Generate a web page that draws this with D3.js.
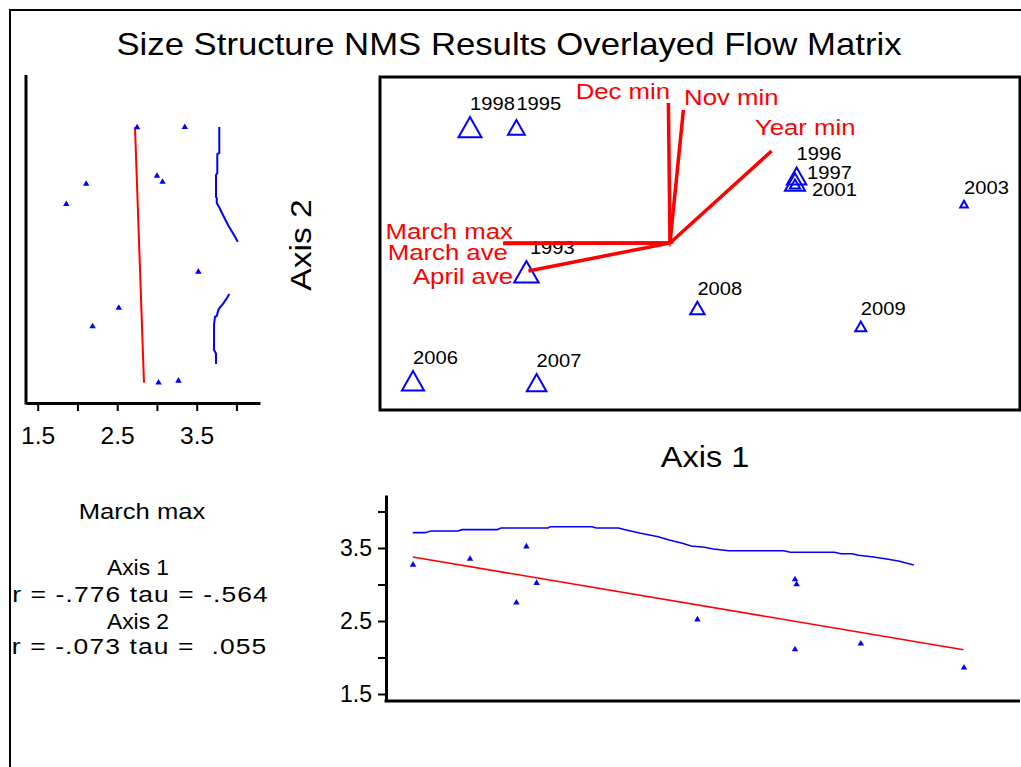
<!DOCTYPE html>
<html>
<head>
<meta charset="utf-8">
<script src="https://cdn.jsdelivr.net/npm/d3@7"></script>
<style>
  body { margin: 0; background: #fff; }
  text { font-family: "Liberation Sans", Arial, sans-serif; }
</style>
</head>
<body>
<svg id="chart" width="1021" height="767"></svg>
<script>
// ordination scores (sample units)
const years      = ["1993", "1995", "1996", "1997", "1998", "2001", "2003", "2006", "2007", "2008", "2009"];
const axis1Score = [-0.718, -0.768, 0.633, 0.625, -1.0, 0.625, 1.47, -1.285, -0.667, 0.137, 0.954];
const axis2Score = [-0.144, 0.578, 0.335, 0.305, 0.579, 0.295, 0.194, -0.689, -0.698, -0.325, -0.417];
const marchMax   = [3.52, 2.75, 3.0, 3.07, 3.35, 2.11, 1.86, 3.27, 3.02, 2.52, 2.19];

// joint plot vectors
const vectorNames = ["Dec min", "Nov min", "Year min", "March max", "March ave", "April ave"];
const vectorAxis1 = [-0.008, 0.067, 0.508, -0.834, -0.834, -0.708];
const vectorAxis2 = [0.70, 0.665, 0.46, 0.0, -0.002, -0.14];

// bottom panel: March max vs Axis 1
const bottomSmoothAxis1 = [-1.286, -1.226, -1.194, -1.061, -1.039, -0.863, -0.846, -0.61, -0.599, -0.39, -0.368, -0.258, -0.224, -0.147, -0.059, -0.004, 0.062, 0.106, 0.172, 0.217, 0.294, 0.569, 0.602, 0.822, 0.855, 0.91, 0.943, 1.009, 1.076, 1.142, 1.219];
const bottomSmoothMarch = [3.71, 3.71, 3.733, 3.733, 3.751, 3.751, 3.774, 3.774, 3.792, 3.792, 3.774, 3.774, 3.751, 3.701, 3.655, 3.61, 3.564, 3.527, 3.51, 3.486, 3.463, 3.463, 3.441, 3.441, 3.422, 3.422, 3.4, 3.381, 3.353, 3.322, 3.267];
const bottomFitAxis1 = [-1.286, 1.4675];
const bottomFitMarch = [3.377, 2.107];

// left panel: Axis 2 vs March max (smooth drawn in two pieces)
const leftSmoothTopMarch = [3.784, 3.784, 3.759, 3.759, 3.743, 3.743, 3.752, 3.752, 3.781, 3.818, 3.856, 3.894, 3.931, 3.969, 4.016];
const leftSmoothTopAxis2 = [0.58, 0.45, 0.445, 0.35, 0.34, 0.23, 0.225, 0.2, 0.18, 0.15, 0.12, 0.09, 0.065, 0.04, 0.0065];
const leftSmoothLowMarch = [3.91, 3.877, 3.835, 3.793, 3.772, 3.752, 3.73, 3.718, 3.718, 3.743, 3.743];
const leftSmoothLowAxis2 = [-0.255, -0.277, -0.302, -0.322, -0.335, -0.365, -0.369, -0.407, -0.535, -0.552, -0.605];
const leftFitMarch = [2.724, 2.837];
const leftFitAxis2 = [0.579, -0.699];

const marchTicks = [1.5, 2.0, 2.5, 3.0, 3.5, 4.0];
const marchLabelTicks = [1.5, 2.5, 3.5];

const statLines = ["March max", "Axis 1", "r = -.776 tau = -.564", "Axis 2", "r = -.073 tau =  .055"];

const svg = d3.select("#chart");
const blue = "#0000ff", red = "#ff0000";

function addText(sel, str, x, y, o) {
  const t = sel.append("text")
    .attr("transform", `translate(${x},${y})${o.rotate ? ` rotate(${o.rotate})` : ""} scale(${o.stretch || 1.12},1)`)
    .attr("text-anchor", o.anchor || "start")
    .attr("font-size", o.size)
    .attr("fill", o.color || "#000")
    .text(str);
  if (o.len) t.attr("textLength", o.len).attr("lengthAdjust", o.adjust || "spacingAndGlyphs");
  return t;
}

// outer frame (left and top edges only are visible)
svg.append("path").attr("d", "M10,767V10H1021").attr("fill", "none").attr("stroke", "#000").attr("stroke-width", 2);

addText(svg, "Size Structure NMS Results Overlayed Flow Matrix", 509, 55, {size: 31, anchor: "middle"});

// scales
const x1 = d3.scaleLinear().domain([-1.45, 1.75]).range([380, 1020]);
const y2 = d3.scaleLinear().domain([-0.835, 0.83]).range([410, 77]);
const mmX = d3.scaleLinear().domain([1.353, 4.296]).range([26, 260]);
const mmY = d3.scaleLinear().domain([1.404, 4.226]).range([701, 495]);
const triSize = d3.scaleLinear().domain([1.8, 3.5]).range([7, 24.5]).clamp(true);

const pts = years.map((yr, i) => ({yr, a1: axis1Score[i], a2: axis2Score[i], mm: marchMax[i]}));

// ---------- main ordination plot ----------
const main = svg.append("g");
main.append("rect").attr("x", 380).attr("y", 77).attr("width", 640).attr("height", 333)
  .attr("fill", "none").attr("stroke", "#000").attr("stroke-width", 3);

function tri(cx, cy, w) {
  const h = w * 0.88;
  return `M${cx},${cy - h / 2}L${cx + w / 2},${cy + h / 2}L${cx - w / 2},${cy + h / 2}Z`;
}

main.selectAll(".tri").data(pts).join("path")
  .attr("d", d => tri(x1(d.a1), y2(d.a2), triSize(d.mm)))
  .attr("fill", "none").attr("stroke", blue).attr("stroke-width", 2);

// nudges for labels that the original moved to avoid overlap
const labelNudge = {"1997": [12, 13], "2001": [17, 23], "1995": [0, -3.5], "1993": [3.5, 0]};
pts.forEach(d => {
  const n = labelNudge[d.yr] || [0, 0];
  const h = triSize(d.mm) * 0.88;
  addText(main, d.yr, x1(d.a1) + n[0], y2(d.a2) - h / 2 - 7 + n[1], {size: 18});
});

// vectors
const ox = x1(0), oy = y2(0);
main.append("path").attr("d", `M${ox - 4},${oy}H${ox + 4}M${ox},${oy - 4}V${oy + 4}`)
  .attr("stroke", red).attr("stroke-width", 1);
const vecLayout = {
  "Dec min":   {dx: 1.7,   dy: -4.3, anchor: "end"},
  "Nov min":   {dx: 0.7,   dy: -5,   anchor: "start"},
  "Year min":  {dx: -16.7, dy: -16,  anchor: "start"},
  "March max": {dx: 9.7,   dy: -4.3, anchor: "end"},
  "March ave": {dx: 4.7,   dy: 16.5, anchor: "end"},
  "April ave": {dx: -15.3, dy: 12.5, anchor: "end"}
};
vectorNames.forEach((name, i) => {
  const tx = x1(vectorAxis1[i]), ty = y2(vectorAxis2[i]);
  main.append("line").attr("x1", ox).attr("y1", oy).attr("x2", tx).attr("y2", ty)
    .attr("stroke", red).attr("stroke-width", 3.5);
  const L = vecLayout[name];
  addText(main, name, tx + L.dx, ty + L.dy, {size: 23, anchor: L.anchor, color: red});
});

addText(svg, "Axis 2", 311, 245, {size: 30, anchor: "middle", rotate: -90});
addText(svg, "Axis 1", 705, 467, {size: 29, anchor: "middle"});

const smallTri = d3.symbol().type(d3.symbolTriangle).size(18);

// ---------- left panel ----------
const left = svg.append("g");
const leftAxis = left.append("g").attr("transform", "translate(0,403)")
  .call(d3.axisBottom(mmX).tickValues(marchTicks).tickSize(8).tickSizeOuter(0)
    .tickFormat(v => marchLabelTicks.includes(v) ? d3.format(".1f")(v) : ""));
leftAxis.select(".domain").attr("stroke-width", 3);
leftAxis.selectAll(".tick line").attr("stroke-width", 2);
leftAxis.selectAll(".tick text").attr("y", 24.5).attr("font-size", 23).attr("fill", "#000")
  .attr("font-family", "Liberation Sans, Arial, sans-serif").attr("transform", "scale(1.07,1)");
left.append("line").attr("x1", 26).attr("x2", 26).attr("y1", 75).attr("y2", 404.5)
  .attr("stroke", "#000").attr("stroke-width", 3);

const leftLine = d3.line().x(d => mmX(d[0])).y(d => y2(d[1]));
left.append("path").attr("d", leftLine(d3.zip(leftFitMarch, leftFitAxis2)))
  .attr("fill", "none").attr("stroke", red).attr("stroke-width", 2);
left.append("path").attr("d", leftLine(d3.zip(leftSmoothTopMarch, leftSmoothTopAxis2)))
  .attr("fill", "none").attr("stroke", blue).attr("stroke-width", 2);
left.append("path").attr("d", leftLine(d3.zip(leftSmoothLowMarch, leftSmoothLowAxis2)))
  .attr("fill", "none").attr("stroke", blue).attr("stroke-width", 2);
left.selectAll(".pt").data(pts).join("path")
  .attr("transform", d => `translate(${mmX(d.mm)},${y2(d.a2)})`)
  .attr("d", smallTri).attr("fill", blue);

// ---------- bottom panel ----------
const bottom = svg.append("g");
const bAxis = bottom.append("g").attr("transform", "translate(386,0)")
  .call(d3.axisLeft(mmY).tickValues(marchTicks).tickSize(8).tickSizeOuter(0)
    .tickFormat(v => marchLabelTicks.includes(v) ? d3.format(".1f")(v) : ""));
bAxis.select(".domain").attr("stroke-width", 3);
bAxis.selectAll(".tick line").attr("stroke-width", 2);
bAxis.selectAll(".tick text").attr("x", -14).attr("font-size", 23).attr("fill", "#000")
  .attr("font-family", "Liberation Sans, Arial, sans-serif");
bottom.append("line").attr("x1", 384.5).attr("x2", 1020).attr("y1", 701).attr("y2", 701)
  .attr("stroke", "#000").attr("stroke-width", 3);

const bLine = d3.line().x(d => x1(d[0])).y(d => mmY(d[1]));
bottom.append("path").attr("d", bLine(d3.zip(bottomFitAxis1, bottomFitMarch)))
  .attr("fill", "none").attr("stroke", red).attr("stroke-width", 1.6);
bottom.append("path").attr("d", bLine(d3.zip(bottomSmoothAxis1, bottomSmoothMarch)))
  .attr("fill", "none").attr("stroke", blue).attr("stroke-width", 1.6);
bottom.selectAll(".pt").data(pts).join("path")
  .attr("transform", d => `translate(${x1(d.a1)},${mmY(d.mm)})`)
  .attr("d", smallTri).attr("fill", blue);

// ---------- correlation text ----------
const statLayout = [
  {x: 142, y: 519, size: 22, stretch: 1.15, len: 110},
  {x: 138, y: 575, size: 22, stretch: 1.15, len: 54},
  {x: 140, y: 602, size: 22, stretch: 1.2,  len: 213, adjust: "spacing"},
  {x: 138, y: 629, size: 22, stretch: 1.15, len: 54},
  {x: 139, y: 654, size: 22, stretch: 1.2,  len: 212, adjust: "spacing"}
];
statLines.forEach((s, i) => {
  const L = statLayout[i];
  addText(svg, s, L.x, L.y, {size: L.size, anchor: "middle", stretch: L.stretch, len: L.len, adjust: L.adjust})
    .attr("xml:space", "preserve");
});
</script>
</body>
</html>
